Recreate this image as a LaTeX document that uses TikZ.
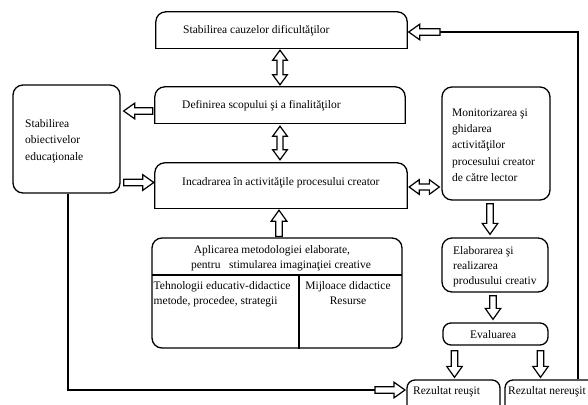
\documentclass[tikz,border=0pt]{standalone}
\usepackage{fontspec}
\setmainfont{Liberation Serif}
\usetikzlibrary{calc}
\tikzset{
  every node/.style={font=\fontsize{11.5}{15}\selectfont, inner sep=0pt},
  ln/.style={line width=1.3pt},
  harrow/.style={line width=1.2pt, fill=white, line join=miter},
  txt/.style={anchor=west, align=left},
  rbox/.style={draw, line width=1.3pt, rounded corners=#1},
  rbox/.default=10pt
}
% hollow single arrow from #1 to #2 (tip at #2)
\newcommand\sarrow[2]{%
  \coordinate (sa-s) at (#1);
  \coordinate (sa-t) at (#2);
  \coordinate (sa-h) at ($(sa-t)!11pt!(sa-s)$);
  \draw[harrow] ($(sa-s)!3.3pt!90:(sa-t)$) -- ($(sa-h)!3.3pt!-90:(sa-s)$)
    -- ($(sa-h)!7.8pt!-90:(sa-s)$) -- (sa-t) -- ($(sa-h)!7.8pt!90:(sa-s)$)
    -- ($(sa-h)!3.3pt!90:(sa-s)$) -- ($(sa-s)!3.3pt!-90:(sa-t)$) -- cycle;}
% hollow double arrow between #1 and #2
\newcommand\darrow[2]{%
  \coordinate (da-s) at (#1);
  \coordinate (da-t) at (#2);
  \coordinate (da-h1) at ($(da-s)!10pt!(da-t)$);
  \coordinate (da-h2) at ($(da-t)!10pt!(da-s)$);
  \draw[harrow] (da-s) -- ($(da-h1)!7.3pt!90:(da-t)$) -- ($(da-h1)!3pt!90:(da-t)$)
    -- ($(da-h2)!3pt!-90:(da-s)$) -- ($(da-h2)!7.3pt!-90:(da-s)$) -- (da-t)
    -- ($(da-h2)!7.3pt!90:(da-s)$) -- ($(da-h2)!3pt!90:(da-s)$)
    -- ($(da-h1)!3pt!-90:(da-t)$) -- ($(da-h1)!7.3pt!-90:(da-t)$) -- cycle;}
% outline with rounded top corners only
\newcommand\toprounded[1]{%
  \draw[ln, rounded corners=10pt] (#1.south west) -- (#1.north west) -- (#1.north east) -- (#1.south east);
  \draw[ln, line cap=rect] (#1.south west) -- (#1.south east);}
\begin{document}
\begin{tikzpicture}[x=1pt,y=-1pt]
\useasboundingbox (0,0) rectangle (588,404);
\clip (0,0) rectangle (588,404);

% left column box
\node[rbox, minimum width=107pt, minimum height=108pt] (obj) at (66.5,139) {};
\node[txt, font=\fontsize{11.5}{16.5}\selectfont] (objt) at (25,141) {Stabilirea\\obiectivelor\\educaţionale};

% middle boxes with rounded tops
\node[minimum width=251pt, minimum height=36pt] (cauze) at (281.5,30) {};
\toprounded{cauze}
\node[txt] (cauzet) at (183,31) {Stabilirea cauzelor dificultăţilor};
\node[minimum width=250pt, minimum height=36pt] (def) at (280,105) {};
\toprounded{def}
\node[txt] (deft) at (182,106) {Definirea scopului şi a finalităţilor};
\node[minimum width=252pt, minimum height=45pt] (inc) at (281,185.5) {};
\toprounded{inc}
\node[txt] (inct) at (182,183) {Incadrarea în activităţile procesului creator};

% methodology box
\node[rbox, minimum width=250pt, minimum height=110pt] (apl) at (277,293) {};
\coordinate (dl) at (152,275);
\coordinate (dr) at (402,275);
\coordinate (dv) at (299,275);
\draw[ln] (dl) -- (dr);
\draw[ln] (dv) -- (dv |- apl.south);
\node[align=center] (apltxt) at (281,258.5)
  {Aplicarea metodologiei elaborate,\hspace*{18pt}\\pentru\ \ \ stimularea imaginaţiei creative};
\node[anchor=north west, align=left] (tech) at (153.5,281)
  {Tehnologii educativ-didactice\\metode, procedee, strategii};
\node[anchor=north, align=center] (mij) at (348,281)
  {Mijloace didactice\\Resurse};

% right column
\node[rbox, minimum width=108pt, minimum height=113pt] (mon) at (496,143.5) {};
\node[txt, font=\fontsize{11.5}{16.3}\selectfont] (mont) at (452,145)
  {Monitorizarea şi\\ghidarea\\activităţilor\\procesului creator\\de către lector};
\node[rbox, minimum width=106pt, minimum height=54pt] (elab) at (495,265) {};
\node[txt] (elabt) at (453,267) {Elaborarea şi\\realizarea\\produsului creativ};
\node[rbox=8pt, minimum width=105pt, minimum height=22pt] (eval) at (495.5,334) {};
\node[txt] (evalt) at (470,335) {Evaluarea};
\node[rbox=8pt, minimum width=93pt, minimum height=35pt] (reusit) at (453.5,397.5) {};
\node[txt] (reusitt) at (413,392) {Rezultat reuşit};
\node[rbox=8pt, minimum width=95pt, minimum height=35pt] (nereusit) at (552.5,397.5) {};
\node[txt] (nereusitt) at (508,392) {Rezultat nereuşit};

% connector lines
\coordinate (c1) at (375,390);
\coordinate (c2) at (405,390);
\coordinate (c3) at (440,32);
\draw[ln] ([xshift=1.5pt]obj.south) |- (c1);
\draw[ln] ([xshift=25.5pt]nereusit.north) |- (c3);

% hollow arrows
\sarrow{c3}{$(cauze.east)+(1.5,2)$}
\darrow{$(cauze.south)+(-1.5,2)$}{$(def.north)+(0,-2)$}
\sarrow{$(def.west)+(-2,6)$}{$(obj.east |- def.west)+(3,6)$}
\sarrow{$(obj.east |- inc.west)+(3,-3)$}{$(inc.west)+(-1,-3)$}
\darrow{$(def.south)+(0,3)$}{$(def.south |- inc.north)+(0,-3)$}
\darrow{$(inc.east)+(2,1.5)$}{$(mon.west |- inc.east)+(-2,1.5)$}
\sarrow{$(apl.north)+(2,-1)$}{$(apl.north |- inc.south)+(2,2)$}
\sarrow{$(mon.south)+(-6,3)$}{$(mon.south |- elab.north)+(-6,-3)$}
\sarrow{$(elab.south)+(-2,3)$}{$(elab.south |- eval.north)+(-2,-3)$}
\sarrow{$(eval.south -| reusit.north)+(1,5)$}{$(reusit.north)+(1,-2)$}
\sarrow{$(eval.south -| nereusit.north)+(-12,5)$}{$(nereusit.north)+(-12,-2)$}
\sarrow{c1}{c2}
\end{tikzpicture}
\end{document}
